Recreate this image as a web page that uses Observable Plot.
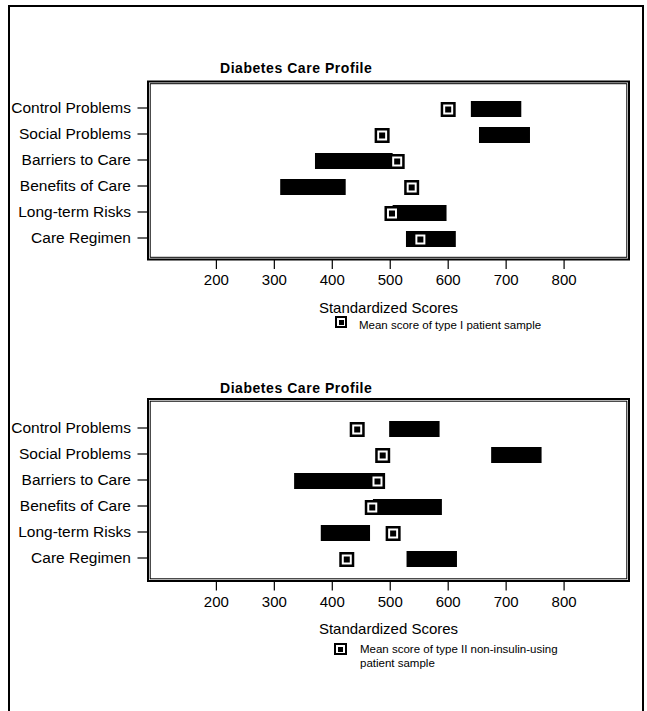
<!DOCTYPE html>
<html><head><meta charset="utf-8">
<script src="https://cdn.jsdelivr.net/npm/d3@7"></script>
<script src="https://cdn.jsdelivr.net/npm/@observablehq/plot@0.6"></script>
<style>
body{margin:0;background:#fff;}
#page{position:relative;width:647px;height:711px;background:#fff;font-family:"Liberation Sans",Arial,Helvetica,sans-serif;color:#000;overflow:hidden;}
.bl{position:absolute;background:#000;}
.title{position:absolute;left:220px;font-weight:bold;font-size:14px;line-height:16px;letter-spacing:0.55px;white-space:nowrap;}
.chart{position:absolute;left:0;}
.legend{position:absolute;font-size:11.5px;line-height:14px;white-space:nowrap;}
.key{position:absolute;border:2px solid #000;background:#fff;box-sizing:border-box;}
.key i{position:absolute;left:50%;top:50%;width:5px;height:5px;margin:-2.5px 0 0 -2.5px;background:#000;}
</style></head>
<body>
<div id="page">
  <div class="bl" style="left:8px;top:5px;width:2px;height:706px"></div>
  <div class="bl" style="left:8px;top:5px;width:635px;height:1.5px"></div>
  <div class="bl" style="left:642px;top:5px;width:1.5px;height:706px"></div>

  <div class="title" style="top:60px">Diabetes Care Profile</div>
  <div class="chart" id="c1" style="top:0px"></div>
  <div class="key" style="left:335px;top:316px;width:12px;height:12px"><i></i></div>
  <div class="legend" style="left:359px;top:318px">Mean score of type I patient sample</div>

  <div class="title" style="top:380px">Diabetes Care Profile</div>
  <div class="chart" id="c2" style="top:320px"></div>
  <div class="key" style="left:334px;top:643px;width:13px;height:12px"><i></i></div>
  <div class="legend" style="left:360px;top:642px">Mean score of type II non-insulin-using<br>patient sample</div>
</div>
<script>
const categories = ["Control Problems","Social Problems","Barriers to Care","Benefits of Care","Long-term Risks","Care Regimen"];
const xTicks = [200, 300, 400, 500, 600, 700, 800];
const xDomain = [82, 912];
const xLabel = "Standardized Scores";

// Type I patient sample
const type1Low  = [640, 654, 371, 311, 505, 528];
const type1High = [727, 742, 505, 424, 598, 614];
const type1Mean = [600, 486, 512, 537, 503, 552];

// Type II non-insulin-using patient sample
const type2Low  = [499, 675, 335, 471, 381, 529];
const type2High = [586, 762, 492, 590, 466, 616];
const type2Mean = [443, 487, 478, 469, 505, 425];

function makeChart(low, high, mean, o) {
  const data = categories.map((c, i) => ({category: c, low: low[i], high: high[i], mean: mean[i]}));
  return Plot.plot({
    width: 647,
    height: o.marginTop + o.frameH + 60,
    marginLeft: 147.5,
    marginRight: 18.5,
    marginTop: o.marginTop,
    marginBottom: 60,
    style: {fontFamily: "'Liberation Sans', Arial, Helvetica, sans-serif", fontSize: "15px", color: "#000", background: "transparent", overflow: "visible"},
    x: {domain: xDomain},
    y: {type: "band", domain: categories, paddingInner: 0.4, paddingOuter: 0.417, insetTop: o.insetTop},
    marks: [
      Plot.frame({stroke: "#000", strokeWidth: 2}),
      Plot.frame({stroke: "#000", strokeWidth: 1, inset: 2.2}),
      Plot.barX(data, {y: "category", x1: "low", x2: "high", fill: "#000"}),
      Plot.dot(data, {y: "category", x: "mean", symbol: "square", r: 7.05, fill: "#fff", stroke: "#000", strokeWidth: 2.5}),
      Plot.dot(data, {y: "category", x: "mean", symbol: "square", r: 3.4, fill: "#000"}),
      Plot.axisY({tickSize: 10, tickPadding: 7, label: null, fontSize: 15.5, dy: -1.5, strokeWidth: 1.2}),
      Plot.axisX({ticks: xTicks, tickSize: 10, tickPadding: 5, fontSize: 15, strokeWidth: 1.2,
                  label: xLabel, labelAnchor: "center", labelArrow: "none", labelOffset: 53})
    ]
  });
}

document.getElementById("c1").append(makeChart(type1Low, type1High, type1Mean, {marginTop: 81, frameH: 178, insetTop: 6.7}));
document.getElementById("c2").append(makeChart(type2Low, type2High, type2Mean, {marginTop: 78.5, frameH: 182, insetTop: 9}));
</script>
</body></html>
